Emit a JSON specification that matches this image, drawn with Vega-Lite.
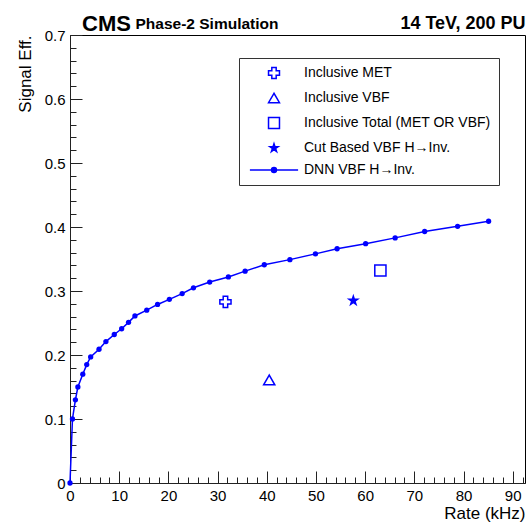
{
  "$schema": "https://vega.github.io/schema/vega-lite/v6.json",
  "autosize": {"type": "none"},
  "padding": {"left": 70, "top": 35, "right": 5, "bottom": 41},
  "width": 455,
  "height": 448,
  "title": {"text": "CMS", "anchor": "start", "frame": "group", "dx": 12, "dy": 26, "font": "Liberation Sans", "fontSize": 22, "fontWeight": "bold", "color": "black"},
  "config": {
    "view": {"stroke": "black", "strokeWidth": 1},
    "font": "Liberation Sans",
    "axis": {"labelFont": "Liberation Sans", "titleFont": "Liberation Sans", "labelColor": "black", "titleColor": "black", "tickColor": "#222", "domainColor": "#222", "grid": false, "titleFontWeight": "normal"},
    "legend": {"orient": "none", "legendX": 169, "legendY": 23, "title": null, "strokeColor": "#333", "fillColor": "white", "padding": 8,
      "symbolSize": 120, "symbolStrokeWidth": 1.5, "symbolStrokeColor": "#0000ff", "symbolOffset": 20, "labelOffset": 23,
      "labelFont": "Liberation Sans", "labelFontSize": 14, "labelColor": "black", "rowPadding": 8, "labelLimit": 400}
  },
  "datasets": {
    "dnn": [
      {"rate": 0, "eff": 0},
      {"rate": 0.5, "eff": 0.1},
      {"rate": 1.1, "eff": 0.13},
      {"rate": 1.6, "eff": 0.15},
      {"rate": 2.6, "eff": 0.17},
      {"rate": 3.4, "eff": 0.185},
      {"rate": 4.2, "eff": 0.197},
      {"rate": 5.9, "eff": 0.209},
      {"rate": 7.3, "eff": 0.221},
      {"rate": 9.0, "eff": 0.232},
      {"rate": 10.5, "eff": 0.241},
      {"rate": 11.9, "eff": 0.251},
      {"rate": 13.2, "eff": 0.261},
      {"rate": 15.6, "eff": 0.27},
      {"rate": 17.8, "eff": 0.279},
      {"rate": 20.2, "eff": 0.287},
      {"rate": 22.8, "eff": 0.296},
      {"rate": 25.1, "eff": 0.305},
      {"rate": 28.4, "eff": 0.314},
      {"rate": 32.2, "eff": 0.322},
      {"rate": 35.6, "eff": 0.331},
      {"rate": 39.5, "eff": 0.341},
      {"rate": 44.7, "eff": 0.349},
      {"rate": 49.9, "eff": 0.358},
      {"rate": 54.3, "eff": 0.366},
      {"rate": 60.1, "eff": 0.374},
      {"rate": 66.1, "eff": 0.383},
      {"rate": 72.1, "eff": 0.393},
      {"rate": 78.8, "eff": 0.401},
      {"rate": 85.1, "eff": 0.409}
    ],
    "markers": [
      {"series": "Inclusive MET", "rate": 31.6, "eff": 0.283},
      {"series": "Inclusive VBF", "rate": 40.5, "eff": 0.161},
      {"series": "Inclusive Total (MET OR VBF)", "rate": 63.1, "eff": 0.332},
      {"series": "Cut Based VBF H→Inv.", "rate": 57.6, "eff": 0.285}
    ]
  },
  "resolve": {"axis": {"x": "independent", "y": "independent"}},
  "layer": [
    {
      "data": {"name": "dnn"},
      "mark": {"type": "line", "color": "#0000ff", "strokeWidth": 1.5},
      "encoding": {
        "x": {"field": "rate", "type": "quantitative", "scale": {"domain": [0, 92.5], "nice": false, "zero": false},
          "axis": {"orient": "bottom", "values": [0,10,20,30,40,50,60,70,80,90], "format": "d",
            "tickSize": -12,
            "labelFontSize": 15, "labelPadding": 17, "labelFlush": false, "labelOverlap": false, "labelBound": false,
            "title": "Rate (kHz)", "titleFontSize": 17, "titleAlign": "right", "titleX": 455, "titleY": 35, "titleBaseline": "alphabetic"}},
        "y": {"field": "eff", "type": "quantitative", "scale": {"domain": [0, 0.7], "nice": false, "zero": false},
          "axis": {"orient": "left", "values": [0,0.1,0.2,0.3,0.4,0.5,0.6,0.7],
            "tickSize": -12,
            "labelExpr": "datum.value == 0 ? '0' : format(datum.value, '.1f')",
            "labelFontSize": 15, "labelPadding": 17, "labelFlush": false, "labelOverlap": false, "labelBound": false,
            "title": "Signal Eff.", "titleFontSize": 17, "titleAngle": -90, "titleAlign": "right", "titleBaseline": "middle", "titleX": -45, "titleY": 0}}
      }
    },
    {
      "data": {"name": "dnn"},
      "mark": {"type": "point", "shape": "circle", "filled": true, "color": "#0000ff", "size": 28, "opacity": 1},
      "encoding": {
        "x": {"field": "rate", "type": "quantitative",
          "axis": {"orient": "bottom", "values": [0,2,4,6,8,12,14,16,18,22,24,26,28,32,34,36,38,42,44,46,48,52,54,56,58,62,64,66,68,72,74,76,78,82,84,86,88,92],
            "tickSize": -6, "labels": false, "domain": false, "title": null}},
        "y": {"field": "eff", "type": "quantitative",
          "axis": {"orient": "left", "values": [0.02,0.04,0.06,0.08,0.12,0.14,0.16,0.18,0.22,0.24,0.26,0.28,0.32,0.34,0.36,0.38,0.42,0.44,0.46,0.48,0.52,0.54,0.56,0.58,0.62,0.64,0.66,0.68],
            "tickSize": -6, "labels": false, "domain": false, "title": null}}
      }
    },
    {
      "data": {"name": "markers"},
      "mark": {"type": "point", "filled": true, "size": 125, "strokeWidth": 1.5, "opacity": 1},
      "encoding": {
        "x": {"field": "rate", "type": "quantitative",
          "axis": {"orient": "top", "domain": false, "ticks": false, "labels": false, "title": "Phase-2 Simulation", "titleFontSize": 15.5, "titleFontWeight": "bold", "titleAlign": "left", "titleX": 65, "titleY": -7, "titleBaseline": "alphabetic"}},
        "y": {"field": "eff", "type": "quantitative",
          "axis": {"orient": "right", "domain": false, "ticks": false, "labels": false, "title": "14 TeV, 200 PU", "titleFontSize": 18, "titleFontWeight": "bold", "titleAngle": 0, "titleAlign": "right", "titleX": 0, "titleY": -7, "titleBaseline": "alphabetic"}},
        "shape": {"field": "series", "type": "nominal",
          "scale": {"domain": ["Inclusive MET", "Inclusive VBF", "Inclusive Total (MET OR VBF)", "Cut Based VBF H→Inv.", "DNN VBF H→Inv."],
            "range": ["cross", "triangle-up", "square", "M0,-0.8L0.18,-0.247L0.761,-0.247L0.29,0.094L0.47,0.647L0,0.306L-0.47,0.647L-0.29,0.094L-0.761,-0.247L-0.18,-0.247Z", "M-4.4,0L4.4,0M-0.45,0A0.45,0.45,0,1,0,0.45,0A0.45,0.45,0,1,0,-0.45,0Z"]}},
        "fill": {"field": "series", "type": "nominal",
          "scale": {"domain": ["Inclusive MET", "Inclusive VBF", "Inclusive Total (MET OR VBF)", "Cut Based VBF H→Inv.", "DNN VBF H→Inv."],
            "range": ["transparent", "transparent", "transparent", "#0000ff", "#0000ff"]}},
        "stroke": {"field": "series", "type": "nominal",
          "scale": {"domain": ["Inclusive MET", "Inclusive VBF", "Inclusive Total (MET OR VBF)", "Cut Based VBF H→Inv.", "DNN VBF H→Inv."],
            "range": ["#0000ff", "#0000ff", "#0000ff", "#0000ff", "#0000ff"]}}
      }
    }
  ]
}
